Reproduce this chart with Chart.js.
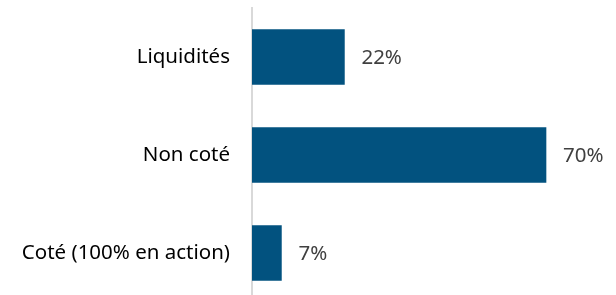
<!DOCTYPE html>
<html><head><meta charset="utf-8">
<script src="https://cdn.jsdelivr.net/npm/chart.js@4"></script>
<style>html,body{margin:0;padding:0;background:#fff;overflow:hidden;width:616px;height:295px}canvas{display:block}</style>
</head><body><canvas id="c" width="616" height="302"></canvas>
<script>
const categories = ["Liquidités", "Non coté", "Coté (100% en action)"];
const values = [22, 70, 7];
const valueLabels = ["22%", "70%", "7%"];

const valuePlugin = {
  id: 'valueLabels',
  afterDatasetsDraw(chart) {
    const ctx = chart.ctx;
    const meta = chart.getDatasetMeta(0);
    ctx.save();
    ctx.font = '20.5px "Noto Sans"';
    ctx.fillStyle = '#404040';
    ctx.textAlign = 'left';
    ctx.textBaseline = 'middle';
    meta.data.forEach((bar, i) => {
      ctx.fillText(valueLabels[i], bar.x + 17, bar.y + 1);
    });
    ctx.restore();
  }
};

new Chart(document.getElementById('c'), {
  type: 'bar',
  data: {
    labels: categories,
    datasets: [{
      data: values,
      backgroundColor: '#02527f',
      barThickness: 55
    }]
  },
  options: {
    indexAxis: 'y',
    responsive: false,
    animation: false,
    layout: { padding: { top: 8, right: 28, left: 0, bottom: 0 } },
    plugins: { legend: { display: false }, tooltip: { enabled: false } },
    scales: {
      x: {
        min: 0, max: 80,
        display: false,
        grid: { display: false }
      },
      y: {
        grid: { display: false, drawTicks: false },
        border: { display: true, color: '#d9d9d9', width: 2 },
        ticks: { color: '#000', font: { family: 'Noto Sans', size: 20.5 }, padding: 22 },
        afterFit(s) { s.width = 252; s.paddingTop = 0; s.paddingBottom = 0; }
      }
    }
  },
  plugins: [valuePlugin]
});
</script></body></html>
